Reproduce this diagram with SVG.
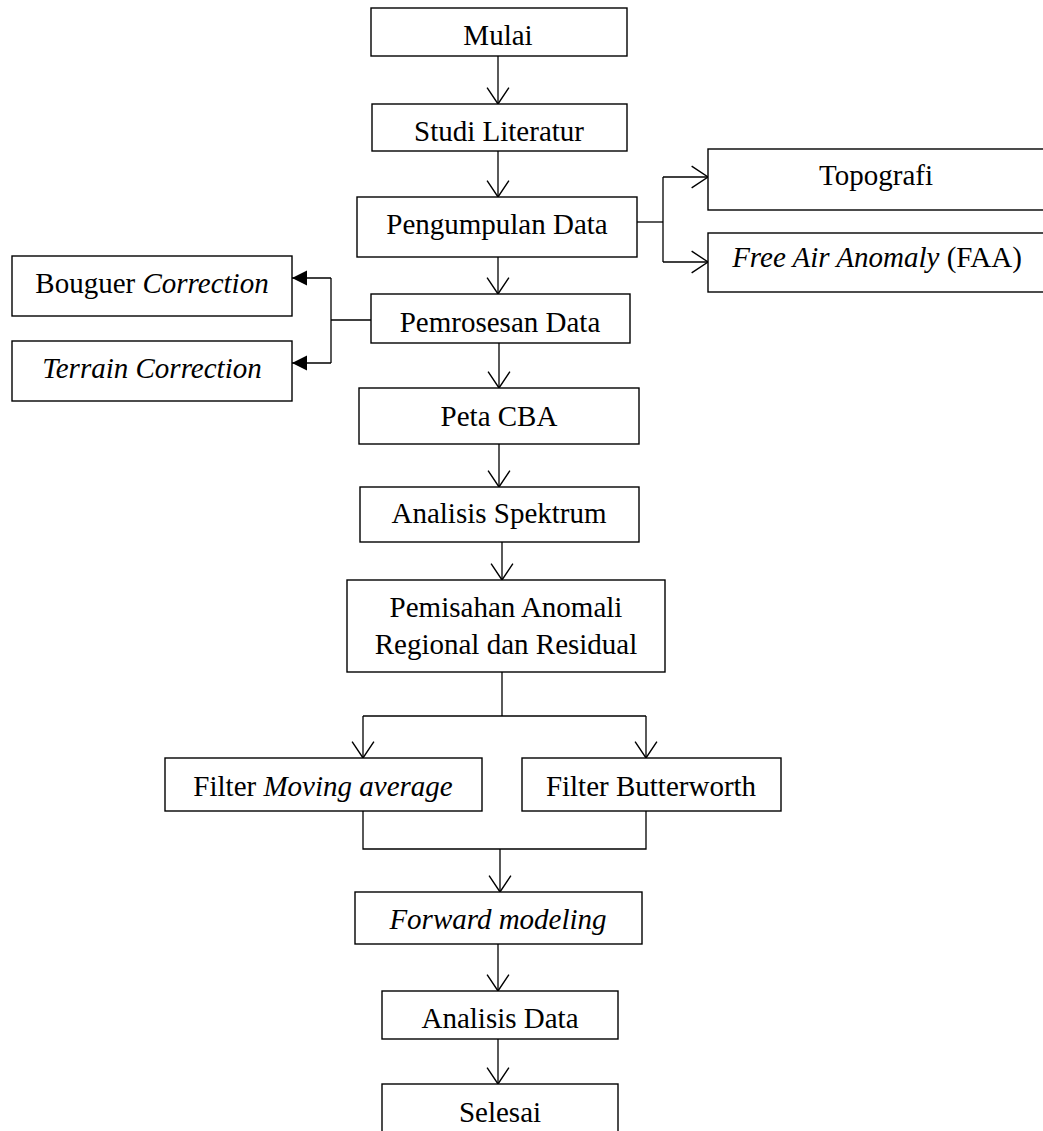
<svg xmlns="http://www.w3.org/2000/svg" width="1043" height="1131" viewBox="0 0 1043 1131">
<defs>
<marker id="open" markerUnits="userSpaceOnUse" markerWidth="20" markerHeight="24" viewBox="-16 -11 18 22" refX="0" refY="0" orient="auto">
<path d="M-15,-10 L0,0 L-15,10" fill="none" stroke="#000" stroke-width="1.3"/>
</marker>
<marker id="filled" markerUnits="userSpaceOnUse" markerWidth="18" markerHeight="18" viewBox="-16 -9 17 18" refX="0" refY="0" orient="auto">
<path d="M-15,-7.5 L0,0 L-15,7.5 Z" fill="#000"/>
</marker>
<style>
.box{fill:#fff;stroke:#000;stroke-width:1.4}
.t{font-family:"Liberation Serif","Times New Roman",serif;font-size:29px;fill:#000;text-anchor:middle}
.i{font-style:italic}
.c{fill:none;stroke:#000;stroke-width:1.3}
</style>
</defs>
<rect width="1043" height="1131" fill="#fff"/>
<g id="connectors">
<line class="c" x1="498" y1="56" x2="498" y2="104" marker-end="url(#open)"/>
<line class="c" x1="498" y1="151" x2="498" y2="197" marker-end="url(#open)"/>
<line class="c" x1="498" y1="257" x2="498" y2="294" marker-end="url(#open)"/>
<line class="c" x1="499" y1="343" x2="499" y2="388" marker-end="url(#open)"/>
<line class="c" x1="499" y1="444" x2="499" y2="487" marker-end="url(#open)"/>
<line class="c" x1="502" y1="542" x2="502" y2="580" marker-end="url(#open)"/>
<polyline class="c" points="637,222 663,222"/>
<polyline class="c" points="663,177 663,262"/>
<line class="c" x1="663" y1="177" x2="708" y2="177" marker-end="url(#open)"/>
<line class="c" x1="663" y1="262" x2="708" y2="262" marker-end="url(#open)"/>
<polyline class="c" points="371,320 331,320"/>
<polyline class="c" points="331,278 331,363"/>
<line class="c" x1="331" y1="278" x2="292" y2="278" marker-end="url(#filled)"/>
<line class="c" x1="331" y1="363" x2="292" y2="363" marker-end="url(#filled)"/>
<line class="c" x1="502" y1="672" x2="502" y2="716"/>
<polyline class="c" points="363,716 646,716"/>
<line class="c" x1="363" y1="716" x2="363" y2="758" marker-end="url(#open)"/>
<line class="c" x1="646" y1="716" x2="646" y2="758" marker-end="url(#open)"/>
<polyline class="c" points="363,807 363,849 646,849 646,807"/>
<line class="c" x1="500" y1="849" x2="500" y2="892" marker-end="url(#open)"/>
<line class="c" x1="498" y1="944" x2="498" y2="991" marker-end="url(#open)"/>
<line class="c" x1="498" y1="1039" x2="498" y2="1084" marker-end="url(#open)"/>
</g>
<g id="mulai"><rect class="box" x="371" y="8" width="256" height="48"/><text class="t" x="498" y="45">Mulai</text></g>
<g id="studi"><rect class="box" x="372" y="104" width="255" height="47"/><text class="t" x="499" y="141">Studi Literatur</text></g>
<g id="pengumpulan"><rect class="box" x="357" y="197" width="280" height="60"/><text class="t" x="497" y="234">Pengumpulan Data</text></g>
<g id="topografi"><rect class="box" x="708" y="149" width="345" height="61"/><text class="t" x="876" y="185">Topografi</text></g>
<g id="faa"><rect class="box" x="708" y="233" width="345" height="59"/><text class="t" x="877" y="267"><tspan class="i">Free Air Anomaly</tspan> (FAA)</text></g>
<g id="pemrosesan"><rect class="box" x="371" y="294" width="259" height="49"/><text class="t" x="500" y="332">Pemrosesan Data</text></g>
<g id="bouguer"><rect class="box" x="12" y="256" width="280" height="60"/><text class="t" x="152" y="293">Bouguer <tspan class="i">Correction</tspan></text></g>
<g id="terrain"><rect class="box" x="12" y="341" width="280" height="60"/><text class="t i" x="152" y="378">Terrain Correction</text></g>
<g id="peta"><rect class="box" x="359" y="388" width="280" height="56"/><text class="t" x="499" y="426">Peta CBA</text></g>
<g id="spektrum"><rect class="box" x="360" y="487" width="279" height="55"/><text class="t" x="499" y="523">Analisis Spektrum</text></g>
<g id="pemisahan"><rect class="box" x="347" y="580" width="318" height="92"/><text class="t" x="506" y="617">Pemisahan Anomali</text><text class="t" x="506" y="654">Regional dan Residual</text></g>
<g id="moving"><rect class="box" x="165" y="758" width="317" height="53"/><text class="t" x="323" y="796">Filter <tspan class="i">Moving average</tspan></text></g>
<g id="butterworth"><rect class="box" x="522" y="758" width="259" height="53"/><text class="t" x="651" y="796">Filter Butterworth</text></g>
<g id="forward"><rect class="box" x="355" y="892" width="287" height="52"/><text class="t i" x="498" y="929">Forward modeling</text></g>
<g id="analisis"><rect class="box" x="382" y="991" width="236" height="48"/><text class="t" x="500" y="1028">Analisis Data</text></g>
<g id="selesai"><rect class="box" x="382" y="1084" width="236" height="50"/><text class="t" x="500" y="1122">Selesai</text></g>
</svg>
